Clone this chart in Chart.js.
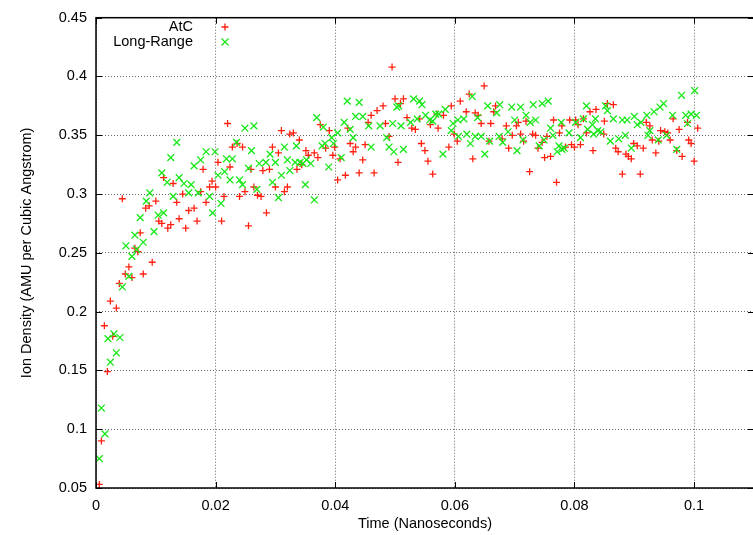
<!DOCTYPE html>
<html>
<head>
<meta charset="utf-8">
<script src="https://cdn.jsdelivr.net/npm/chart.js@4"></script>
<style>
  html, body { margin: 0; padding: 0; background: #fff; }
  #wrap { width: 753px; height: 535px; overflow: hidden; }
</style>
</head>
<body>
<div id="wrap"><canvas id="densityChart" width="760" height="535"></canvas></div>
<script>
// AtC series (red +)
const atcTime = [
  0.00055, 0.0009, 0.0014, 0.0019, 0.0024, 0.0028, 0.0034, 0.0039, 0.0044, 0.0049,
  0.0055, 0.006, 0.0065, 0.007, 0.0074, 0.0079, 0.0083, 0.0089, 0.0094, 0.01,
  0.0105, 0.011, 0.0113, 0.012, 0.0125, 0.0129, 0.0135, 0.0139, 0.0145, 0.015,
  0.0155, 0.0164, 0.0169, 0.0175, 0.0179, 0.0184, 0.019, 0.0194, 0.02, 0.0204,
  0.021, 0.0214, 0.022, 0.0224, 0.0228, 0.0236, 0.024, 0.0245, 0.0249, 0.0255,
  0.0259, 0.0264, 0.027, 0.0276, 0.0279, 0.0285, 0.029, 0.0295, 0.030, 0.0305,
  0.031, 0.0315, 0.032, 0.0324, 0.033, 0.0336, 0.034, 0.0344, 0.0351, 0.0355,
  0.0365, 0.0371, 0.0375, 0.0384, 0.039, 0.0396, 0.0399, 0.0404, 0.0408, 0.0417,
  0.0421, 0.0425, 0.043, 0.0434, 0.044, 0.0446, 0.045, 0.0455, 0.046, 0.0465,
  0.047, 0.048, 0.0484, 0.049, 0.0495, 0.050, 0.0505, 0.0509, 0.0514, 0.052,
  0.0528, 0.0534, 0.0541, 0.0544, 0.055, 0.0555, 0.0559, 0.0563, 0.057, 0.0572,
  0.0581, 0.059, 0.0594, 0.0599, 0.0604, 0.0609, 0.0619, 0.0624, 0.063, 0.0634,
  0.0639, 0.0644, 0.0649, 0.0657, 0.066, 0.0665, 0.0668, 0.0679, 0.0686, 0.069,
  0.0696, 0.0703, 0.0706, 0.071, 0.0715, 0.0719, 0.0725, 0.073, 0.0735, 0.0739,
  0.0746, 0.075, 0.0754, 0.076, 0.0765, 0.077, 0.0775, 0.0779, 0.0785, 0.0792,
  0.0795, 0.08, 0.0802, 0.0806, 0.081, 0.0815, 0.082, 0.0826, 0.0831, 0.0836,
  0.0849, 0.085, 0.0855, 0.0865, 0.0869, 0.0873, 0.088, 0.0886, 0.089, 0.0895,
  0.0899, 0.0905, 0.091, 0.0915, 0.092, 0.0926, 0.093, 0.0936, 0.0941, 0.0944,
  0.0951, 0.0956, 0.096, 0.0965, 0.0971, 0.0975, 0.098, 0.0989, 0.0991, 0.0995,
  0.1, 0.1006
];
const atcDensity = [
  0.053, 0.090, 0.188, 0.149, 0.209, 0.179, 0.203, 0.224, 0.296, 0.232,
  0.238, 0.229, 0.254, 0.251, 0.267, 0.232, 0.288, 0.290, 0.242, 0.294,
  0.277, 0.275, 0.314, 0.271, 0.274, 0.309, 0.293, 0.279, 0.300, 0.271,
  0.286, 0.288, 0.277, 0.302, 0.321, 0.293, 0.306, 0.311, 0.306, 0.327,
  0.277, 0.298, 0.360, 0.323, 0.340, 0.343, 0.298, 0.340, 0.302, 0.273,
  0.321, 0.306, 0.299, 0.298, 0.320, 0.284, 0.321, 0.340, 0.306, 0.335,
  0.354, 0.302, 0.306, 0.351, 0.352, 0.321, 0.346, 0.325, 0.337, 0.333,
  0.335, 0.331, 0.359, 0.339, 0.354, 0.333, 0.340, 0.312, 0.330, 0.316,
  0.356, 0.343, 0.336, 0.340, 0.318, 0.329, 0.342, 0.361, 0.367, 0.318,
  0.371, 0.375, 0.360, 0.349, 0.408, 0.381, 0.327, 0.377, 0.381, 0.365,
  0.356, 0.355, 0.364, 0.343, 0.337, 0.328, 0.359, 0.317, 0.368, 0.356,
  0.367, 0.340, 0.375, 0.351, 0.345, 0.379, 0.370, 0.385, 0.330, 0.369,
  0.367, 0.360, 0.392, 0.345, 0.360, 0.370, 0.375, 0.347, 0.358, 0.339,
  0.350, 0.358, 0.361, 0.351, 0.345, 0.362, 0.319, 0.351, 0.350, 0.339,
  0.344, 0.331, 0.349, 0.332, 0.363, 0.310, 0.352, 0.358, 0.340, 0.363,
  0.342, 0.340, 0.363, 0.359, 0.342, 0.364, 0.352, 0.370, 0.337, 0.372,
  0.351, 0.362, 0.377, 0.376, 0.339, 0.336, 0.317, 0.334, 0.332, 0.330,
  0.343, 0.341, 0.317, 0.339, 0.361, 0.358, 0.346, 0.335, 0.345, 0.354,
  0.353, 0.352, 0.346, 0.364, 0.337, 0.355, 0.332, 0.361, 0.346, 0.343,
  0.328, 0.356
];

// Long-Range series (green x)
const lrTime = [
  0.00055, 0.0009, 0.0015, 0.002, 0.0024, 0.003, 0.0034, 0.004, 0.0044, 0.005,
  0.0055, 0.006, 0.0065, 0.0068, 0.0074, 0.0079, 0.0084, 0.009, 0.0097, 0.0104,
  0.011, 0.0113, 0.0119, 0.0125, 0.0129, 0.0135, 0.0139, 0.0147, 0.0155, 0.0159,
  0.0164, 0.0171, 0.0175, 0.0184, 0.019, 0.0195, 0.0199, 0.0204, 0.0209, 0.0215,
  0.0218, 0.0224, 0.0228, 0.0235, 0.024, 0.0245, 0.0249, 0.0255, 0.026, 0.0264,
  0.0269, 0.0273, 0.0284, 0.0291, 0.0295, 0.030, 0.0305, 0.031, 0.0315, 0.032,
  0.0324, 0.0333, 0.0335, 0.0341, 0.0346, 0.035, 0.0352, 0.0359, 0.0365, 0.0369,
  0.0378, 0.038, 0.0383, 0.0389, 0.0394, 0.0397, 0.0404, 0.041, 0.0415, 0.042,
  0.0425, 0.043, 0.0434, 0.044, 0.0446, 0.0456, 0.046, 0.0475, 0.0486, 0.049,
  0.0496, 0.0498, 0.0503, 0.0506, 0.051, 0.0514, 0.0526, 0.0531, 0.0537, 0.0541,
  0.0545, 0.0551, 0.0558, 0.0563, 0.0568, 0.0573, 0.058, 0.0584, 0.0594, 0.0597,
  0.0605, 0.0606, 0.0615, 0.062, 0.0626, 0.0629, 0.0634, 0.0638, 0.0644, 0.065,
  0.0655, 0.0658, 0.067, 0.0674, 0.0675, 0.068, 0.0689, 0.0695, 0.07, 0.0704,
  0.071, 0.0714, 0.0719, 0.0726, 0.0731, 0.0735, 0.0741, 0.0746, 0.0749, 0.0756,
  0.076, 0.0764, 0.0771, 0.0774, 0.0778, 0.0779, 0.0783, 0.0791, 0.0802, 0.081,
  0.0815, 0.082, 0.0822, 0.083, 0.0832, 0.0835, 0.0839, 0.0844, 0.0852, 0.0855,
  0.086, 0.0865, 0.0874, 0.088, 0.0885, 0.0888, 0.0895, 0.09, 0.0905, 0.0911,
  0.0921, 0.0923, 0.0926, 0.0933, 0.094, 0.0943, 0.0949, 0.0954, 0.0964, 0.0971,
  0.0979, 0.0986, 0.0989, 0.0995, 0.1001, 0.1004
];
const lrDensity = [
  0.075, 0.118, 0.096, 0.177, 0.157, 0.181, 0.165, 0.178, 0.221, 0.256,
  0.230, 0.247, 0.265, 0.253, 0.280, 0.259, 0.294, 0.301, 0.268, 0.282,
  0.318, 0.284, 0.310, 0.331, 0.298, 0.344, 0.314, 0.309, 0.301, 0.308,
  0.324, 0.301, 0.329, 0.336, 0.298, 0.284, 0.336, 0.316, 0.292, 0.319,
  0.330, 0.312, 0.330, 0.344, 0.312, 0.308, 0.356, 0.322, 0.337, 0.358,
  0.304, 0.326, 0.327, 0.334, 0.310, 0.327, 0.297, 0.316, 0.340, 0.329,
  0.320, 0.327, 0.341, 0.327, 0.326, 0.308, 0.329, 0.326, 0.295, 0.365,
  0.341, 0.357, 0.343, 0.323, 0.348, 0.343, 0.352, 0.331, 0.361, 0.379,
  0.355, 0.348, 0.366, 0.378, 0.366, 0.358, 0.340, 0.358, 0.348, 0.340,
  0.360, 0.336, 0.374, 0.375, 0.358, 0.338, 0.361, 0.381, 0.364, 0.379,
  0.376, 0.367, 0.363, 0.362, 0.368, 0.368, 0.334, 0.372, 0.354, 0.360,
  0.363, 0.349, 0.364, 0.351, 0.343, 0.383, 0.349, 0.365, 0.349, 0.334,
  0.375, 0.345, 0.369, 0.349, 0.376, 0.344, 0.353, 0.374, 0.363, 0.337,
  0.374, 0.346, 0.367, 0.361, 0.376, 0.363, 0.341, 0.377, 0.346, 0.379,
  0.356, 0.350, 0.336, 0.341, 0.361, 0.338, 0.339, 0.352, 0.361, 0.348,
  0.364, 0.375, 0.355, 0.359, 0.351, 0.364, 0.354, 0.353, 0.375, 0.371,
  0.345, 0.364, 0.347, 0.363, 0.350, 0.363, 0.339, 0.366, 0.359, 0.361,
  0.367, 0.350, 0.354, 0.370, 0.346, 0.374, 0.377, 0.350, 0.367, 0.338,
  0.384, 0.367, 0.360, 0.368, 0.388, 0.367
];

const xTicks = [0, 0.02, 0.04, 0.06, 0.08, 0.1];
const yTicks = [0.05, 0.1, 0.15, 0.2, 0.25, 0.3, 0.35, 0.4, 0.45];

const fontFamily = "'Liberation Sans', Arial, Helvetica, sans-serif";
const redColor = 'rgb(255, 32, 16)';
const greenColor = 'rgb(24, 232, 24)';

// Gnuplot-style box, inward ticks and key
const gnuplotFrame = {
  id: 'gnuplotFrame',
  afterDraw(chart) {
    const { ctx, chartArea: a, scales } = chart;
    const x = scales.x, y = scales.y;
    ctx.save();
    ctx.strokeStyle = '#000';
    ctx.lineWidth = 1;
    ctx.beginPath();
    xTicks.forEach(v => {
      const px = Math.round(x.getPixelForValue(v)) + 0.5;
      ctx.moveTo(px, a.bottom); ctx.lineTo(px, a.bottom - 6);
      ctx.moveTo(px, a.top); ctx.lineTo(px, a.top + 6);
    });
    yTicks.forEach(v => {
      const py = Math.round(y.getPixelForValue(v)) + 0.5;
      ctx.moveTo(a.left, py); ctx.lineTo(a.left + 6, py);
      ctx.moveTo(a.right, py); ctx.lineTo(a.right - 6, py);
    });
    ctx.stroke();
    ctx.lineWidth = 1.5;
    ctx.strokeRect(a.left, a.top, a.right - a.left, a.bottom - a.top);

    // key
    ctx.font = '14.5px ' + fontFamily;
    ctx.fillStyle = '#000';
    ctx.textAlign = 'right';
    ctx.textBaseline = 'middle';
    ctx.fillText('AtC', 193, 27);
    ctx.fillText('Long-Range', 193, 42);
    ctx.lineWidth = 1.3;
    ctx.strokeStyle = redColor;
    ctx.beginPath();
    ctx.moveTo(221.5, 27); ctx.lineTo(228.5, 27);
    ctx.moveTo(225, 23.5); ctx.lineTo(225, 30.5);
    ctx.stroke();
    ctx.strokeStyle = greenColor;
    ctx.beginPath();
    ctx.moveTo(221.5, 38.5); ctx.lineTo(228.5, 45.5);
    ctx.moveTo(228.5, 38.5); ctx.lineTo(221.5, 45.5);
    ctx.stroke();
    ctx.restore();
  }
};

const ctx = document.getElementById('densityChart').getContext('2d');
const densityChart = new Chart(ctx, {
  type: 'scatter',
  data: {
    datasets: [{
      label: 'AtC',
      data: atcTime.map((t, i) => ({ x: t, y: atcDensity[i] })),
      pointStyle: 'cross',
      pointRadius: 3.5,
      pointBorderWidth: 1.3,
      borderColor: redColor,
      backgroundColor: redColor,
      order: 1
    }, {
      label: 'Long-Range',
      data: lrTime.map((t, i) => ({ x: t, y: lrDensity[i] })),
      pointStyle: 'crossRot',
      pointRadius: 4.8,
      pointBorderWidth: 1.3,
      borderColor: greenColor,
      backgroundColor: greenColor,
      order: 0
    }]
  },
  options: {
    responsive: false,
    animation: false,
    layout: { padding: { top: 13, right: 6, left: 0, bottom: 0 } },
    plugins: {
      legend: { display: false },
      tooltip: { enabled: false }
    },
    scales: {
      x: {
        type: 'linear',
        min: 0,
        max: 0.11,
        afterFit: s => { s.height = 47; },
        afterBuildTicks: s => { s.ticks = xTicks.map(v => ({ value: v })); },
        grid: { color: 'rgba(0,0,0,0.6)', drawTicks: false, lineWidth: 1 },
        border: { display: false, dash: [1, 2] },
        ticks: {
          padding: 9,
          color: '#000',
          font: { family: fontFamily, size: 14.5 },
          callback: v => String(+v.toFixed(2))
        },
        title: {
          display: true,
          text: 'Time (Nanoseconds)',
          color: '#000',
          font: { family: fontFamily, size: 14.5 },
          padding: { top: 0, bottom: 2 }
        }
      },
      y: {
        type: 'linear',
        min: 0.05,
        max: 0.45,
        afterFit: s => { s.width = 96; },
        afterBuildTicks: s => { s.ticks = yTicks.map(v => ({ value: v })); },
        grid: { color: 'rgba(0,0,0,0.6)', drawTicks: false, lineWidth: 1 },
        border: { display: false, dash: [1, 2] },
        ticks: {
          padding: 9,
          color: '#000',
          font: { family: fontFamily, size: 14.5 },
          callback: v => String(+v.toFixed(2))
        },
        title: {
          display: true,
          text: 'Ion Density (AMU per Cubic Angstrom)',
          color: '#000',
          font: { family: fontFamily, size: 14.5 },
          padding: { top: 18, bottom: 0 }
        }
      }
    }
  },
  plugins: [gnuplotFrame]
});
</script>
</body>
</html>
